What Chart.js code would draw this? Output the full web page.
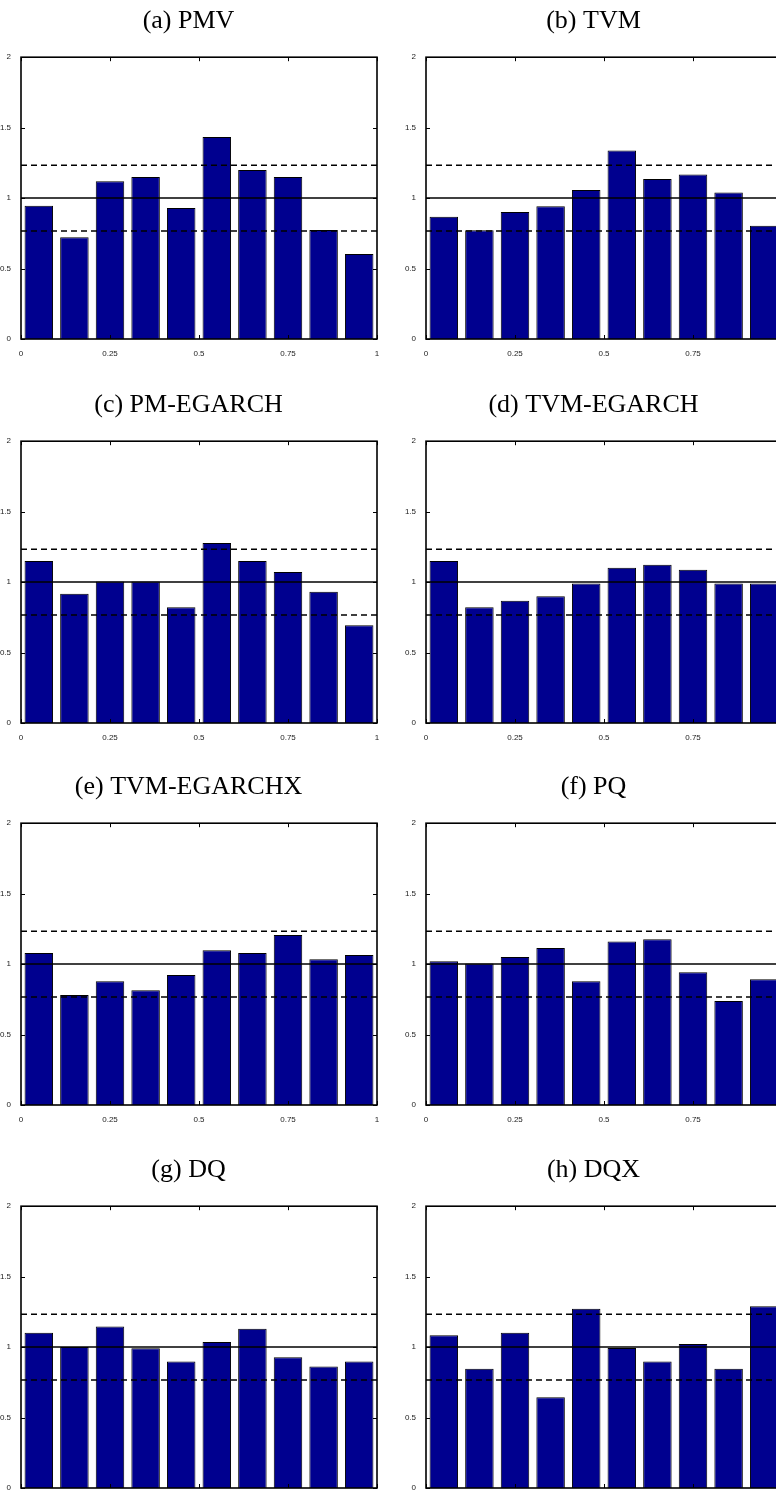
<!DOCTYPE html>
<html>
<head>
<meta charset="utf-8">
<script src="https://cdn.jsdelivr.net/npm/chart.js@4.4.1/dist/chart.umd.min.js"></script>
<style>
  html, body { margin: 0; padding: 0; background: #fff; width: 776px; height: 1497px; overflow: hidden; }
  .panel { position: absolute; width: 390px; height: 357px; }
</style>
</head>
<body>
<div class="panel" style="left:0;top:0"><canvas id="chart-a"></canvas></div>
<div class="panel" style="left:405px;top:0"><canvas id="chart-b"></canvas></div>
<div class="panel" style="left:0;top:384px"><canvas id="chart-c"></canvas></div>
<div class="panel" style="left:405px;top:384px"><canvas id="chart-d"></canvas></div>
<div class="panel" style="left:0;top:766px"><canvas id="chart-e"></canvas></div>
<div class="panel" style="left:405px;top:766px"><canvas id="chart-f"></canvas></div>
<div class="panel" style="left:0;top:1149px"><canvas id="chart-g"></canvas></div>
<div class="panel" style="left:405px;top:1149px"><canvas id="chart-h"></canvas></div>
<script>
// histogram bins (centres) and axis ticks
const BIN_CENTERS = [0.05, 0.15, 0.25, 0.35, 0.45, 0.55, 0.65, 0.75, 0.85, 0.95];
const X_TICKS = [0, 0.25, 0.5, 0.75, 1];
const Y_TICKS = [0, 0.5, 1, 1.5, 2];

// reference level and confidence band
const UNIFORM_LEVEL = 1;
const BAND_UPPER = 1.233;
const BAND_LOWER = 0.767;

// relative frequencies per model
const PMV          = [0.945, 0.723, 1.120, 1.149, 0.929, 1.433, 1.199, 1.149, 0.773, 0.603];
const TVM          = [0.867, 0.771, 0.901, 0.943, 1.057, 1.338, 1.135, 1.168, 1.040, 0.804];
const PM_EGARCH    = [1.150, 0.917, 1.005, 1.005, 0.822, 1.278, 1.150, 1.071, 0.931, 0.694];
const TVM_EGARCH   = [1.150, 0.822, 0.867, 0.900, 0.990, 1.102, 1.124, 1.088, 0.990, 0.990];
const TVM_EGARCHX  = [1.079, 0.781, 0.878, 0.814, 0.923, 1.098, 1.079, 1.207, 1.034, 1.065];
const PQ           = [1.020, 1.004, 1.051, 1.115, 0.878, 1.160, 1.176, 0.942, 0.738, 0.892];
const DQ           = [1.101, 1.001, 1.146, 0.992, 0.897, 1.037, 1.131, 0.928, 0.862, 0.897];
const DQX          = [1.084, 0.847, 1.101, 0.644, 1.273, 0.994, 0.897, 1.022, 0.847, 1.290];

const PANEL_IDS    = ["chart-a", "chart-b", "chart-c", "chart-d", "chart-e", "chart-f", "chart-g", "chart-h"];
const PANEL_TITLES = ["(a) PMV", "(b) TVM", "(c) PM-EGARCH", "(d) TVM-EGARCH", "(e) TVM-EGARCHX", "(f) PQ", "(g) DQ", "(h) DQX"];
const PANEL_SERIES = [PMV, TVM, PM_EGARCH, TVM_EGARCH, TVM_EGARCHX, PQ, DQ, DQX];

const BAR_COLOR = "#00008f";
const TICK_LEN = 4;

// matlab-style box with inward ticks on all four sides
const frameBox = {
  id: "frameBox",
  afterDatasetsDraw(chart) {
    const { ctx, chartArea: a, scales: { x, y } } = chart;
    ctx.save();
    ctx.strokeStyle = "#000";
    ctx.lineWidth = 1;
    ctx.beginPath();
    x.ticks.forEach((t) => {
      const px = Math.round(x.getPixelForValue(t.value)) + 0.5;
      ctx.moveTo(px, a.bottom); ctx.lineTo(px, a.bottom - TICK_LEN);
      ctx.moveTo(px, a.top); ctx.lineTo(px, a.top + TICK_LEN);
    });
    y.ticks.forEach((t) => {
      const py = Math.round(y.getPixelForValue(t.value)) + 0.5;
      ctx.moveTo(a.left, py); ctx.lineTo(a.left + TICK_LEN, py);
      ctx.moveTo(a.right, py); ctx.lineTo(a.right - TICK_LEN, py);
    });
    ctx.stroke();
    ctx.lineWidth = 1.6;
    ctx.strokeRect(a.left, a.top, a.right - a.left, a.bottom - a.top);
    ctx.restore();
  },
};

function levelLine(value, dashed) {
  return {
    type: "line",
    data: [{ x: 0, y: value }, { x: 1, y: value }],
    borderColor: "#000",
    borderWidth: 1.5,
    borderDash: dashed ? [6, 4] : [],
    pointRadius: 0,
    order: 0,
  };
}

function buildPanel(id, title, series) {
  const tickFont = { family: "'Liberation Sans', Arial, sans-serif", size: 8 };
  new Chart(document.getElementById(id), {
    type: "bar",
    data: {
      datasets: [
        levelLine(UNIFORM_LEVEL, false),
        levelLine(BAND_UPPER, true),
        levelLine(BAND_LOWER, true),
        {
          type: "bar",
          data: series.map((v, i) => ({ x: BIN_CENTERS[i], y: v })),
          backgroundColor: BAR_COLOR,
          borderColor: "#000",
          borderWidth: 1,
          barPercentage: 0.8,
          categoryPercentage: 1.0,
          order: 1,
        },
      ],
    },
    options: {
      responsive: true,
      maintainAspectRatio: false,
      animation: false,
      layout: { padding: { left: 0, right: 13, top: 0, bottom: 0 } },
      plugins: {
        legend: { display: false },
        tooltip: { enabled: false },
        title: {
          display: true,
          text: title,
          color: "#000",
          font: { family: "'Liberation Serif', 'Times New Roman', serif", size: 26, weight: "normal", lineHeight: 1.2 },
          padding: { top: 6, bottom: 20 },
        },
      },
      scales: {
        x: {
          type: "linear",
          min: 0,
          max: 1,
          offset: false,
          grid: { display: false },
          border: { display: false },
          afterBuildTicks: (s) => { s.ticks = X_TICKS.map((v) => ({ value: v })); },
          afterFit: (s) => { s.height = 18; },
          ticks: { autoSkip: false, maxRotation: 0, padding: 2, color: "#222", font: tickFont, callback: (v) => String(v) },
        },
        y: {
          min: 0,
          max: 2,
          grid: { display: false },
          border: { display: false },
          afterBuildTicks: (s) => { s.ticks = Y_TICKS.map((v) => ({ value: v })); },
          afterFit: (s) => { s.width = 21; },
          ticks: { padding: 2, color: "#222", font: tickFont, callback: (v) => String(v) },
        },
      },
    },
    plugins: [frameBox],
  });
}

PANEL_IDS.forEach((id, i) => buildPanel(id, PANEL_TITLES[i], PANEL_SERIES[i]));
</script>
</body>
</html>
